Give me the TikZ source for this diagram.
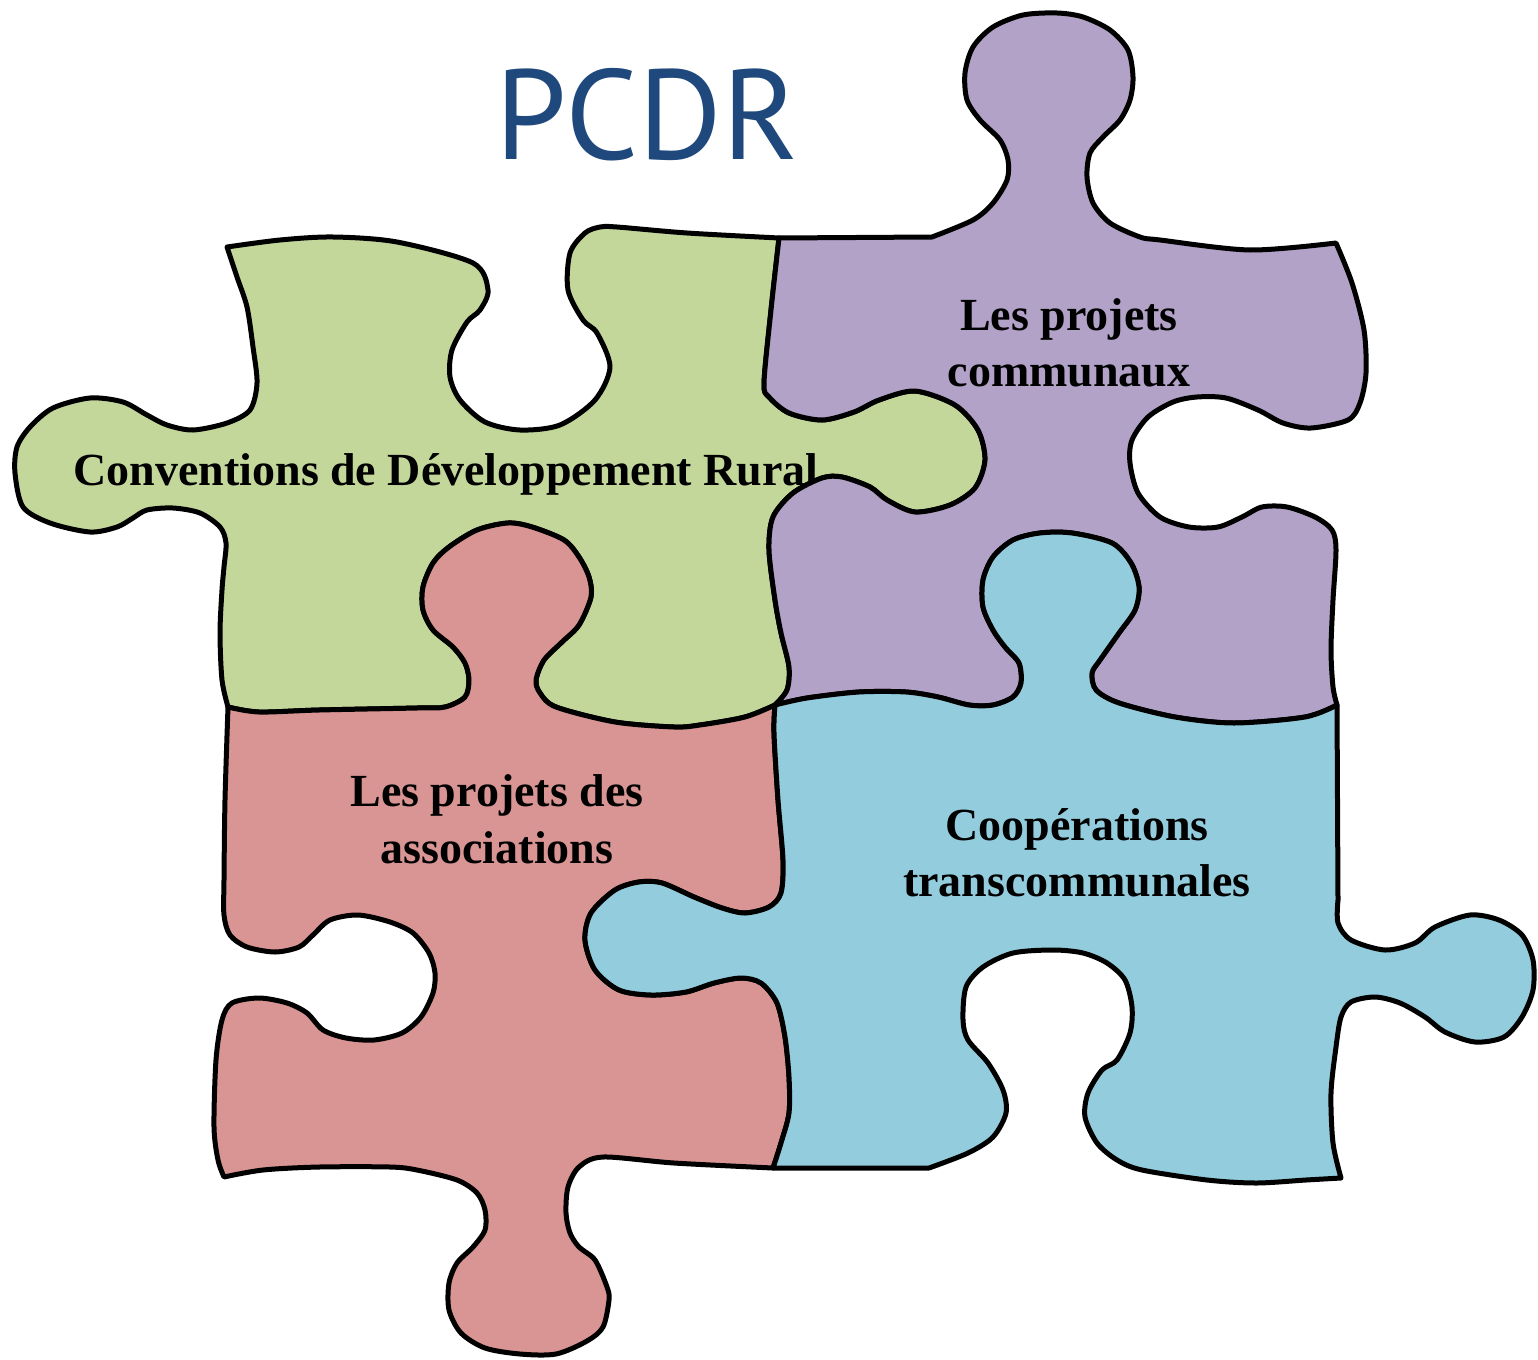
\documentclass[tikz,border=0pt]{standalone}
\usepackage{fontspec}
\setmainfont{Liberation Serif}
\newfontfamily\titlefont{PT Sans}
\definecolor{cgreen}{RGB}{196,215,155}
\definecolor{cpurple}{RGB}{178,162,199}
\definecolor{cred}{RGB}{217,149,148}
\definecolor{cblue}{RGB}{147,205,221}
\definecolor{titleblue}{RGB}{31,73,125}
\begin{document}
\begin{tikzpicture}[x=1pt,y=-1pt,
  piece/.style={draw=black, line width=5pt, line join=round},
  lbl/.style={font=\fontsize{46}{56}\selectfont\bfseries, anchor=base, inner sep=0pt}]
\useasboundingbox (0,0) rectangle (1538,1359);

% green piece
\path[piece, fill=cgreen] (227,247)
 -- plot[smooth] coordinates {(227,247) (280,240) (333,237) (397,242) (473,263) (488,290) (480,310) (467,322) (452,350) (450,377) (460,400) (485,422) (520,430) (560,425) (595,400) (610,367) (597,333) (583,320) (568,290) (570,253) (585,233) (600,227) (617,227) (687,233) (779,238)}
 -- plot[smooth] coordinates {(779,238) (771,310) (764,383) (769,397) (789,413) (822,420) (854,412) (879,400) (915,391) (955,405) (978,430) (985,460) (975,488) (950,505) (915,512) (887,500) (870,487) (842,477) (822,478) (793,493) (773,517) (769,550) (775,600) (781,633) (789,667) (787,690) (775,705)}
 -- plot[smooth] coordinates {(775,705) (745,717) (700,725) (674,727) (615,722) (556,707) (540,693) (536,680) (544,660) (562,642) (579,625) (591,597) (589,577) (579,557) (564,540) (532,527) (508,523) (477,530) (449,547) (433,563) (423,587) (423,610) (433,630) (453,647) (465,663) (469,680) (465,697) (445,707) (417,708) (319,710) (259,712) (228,707)}
 -- plot[smooth] coordinates {(228,707) (222,680) (220,633) (222,590) (224,567) (226,543) (220,527) (200,513) (173,508) (147,510) (133,518) (117,527) (90,532) (50,523) (23,507) (15,473) (17,447) (30,427) (53,408) (90,398) (123,402) (147,415) (167,425) (193,430) (227,423) (250,410) (257,383) (253,347) (247,307) (237,277) (227,247)}
 -- cycle;
\node[lbl] (conv) at (446,485) {Conventions de Développement Rural};

% purple piece
\path[piece, fill=cpurple] (779,238) -- (932,237)
 -- plot[smooth] coordinates {(932,237) (973,220) (993,203) (1007,180) (1008,160) (1000,140) (980,120) (967,100) (965,73) (973,47) (993,27) (1023,15) (1057,13) (1083,17) (1110,30) (1128,50) (1133,77) (1130,100) (1120,120) (1103,137) (1090,153) (1087,177) (1093,203) (1110,223) (1140,237) (1160,240) (1250,250) (1336,243)}
 -- plot[smooth] coordinates {(1336,243) (1352,283) (1364,330) (1366,373) (1360,403) (1348,420) (1311,428) (1283,423) (1258,410) (1226,398) (1197,397) (1173,402) (1148,417) (1132,440) (1130,463) (1138,493) (1160,517) (1189,527) (1218,527) (1242,517) (1262,507) (1287,507) (1315,517) (1332,530) (1336,550) (1333,600) (1331,650) (1333,687) (1337,705)}
 -- plot[smooth] coordinates {(1337,705) (1305,717) (1234,723) (1175,717) (1119,703) (1096,690) (1092,673) (1100,660) (1119,633) (1135,610) (1139,587) (1131,563) (1112,543) (1072,533) (1040,533) (1013,540) (993,557) (983,580) (983,607) (993,630) (1005,647) (1019,663) (1021,683) (1013,697) (993,705) (969,705) (938,697) (906,692) (859,692) (807,698) (775,705)}
 -- plot[smooth] coordinates {(775,705) (787,690) (789,667) (781,633) (775,600) (769,550) (773,517) (793,493) (822,478) (842,477) (870,487) (887,500) (915,512) (950,505) (975,488) (985,460) (978,430) (955,405) (915,391) (879,400) (854,412) (822,420) (789,413) (769,397) (764,383) (771,310) (779,238)}
 -- cycle;

% red piece
\path[piece, fill=cred] (775,705)
 -- plot[smooth] coordinates {(775,705) (745,717) (700,725) (674,727) (615,722) (556,707) (540,693) (536,680) (544,660) (562,642) (579,625) (591,597) (589,577) (579,557) (564,540) (532,527) (508,523) (477,530) (449,547) (433,563) (423,587) (423,610) (433,630) (453,647) (465,663) (469,680) (465,697) (445,707) (417,708) (319,710) (259,712) (228,707)}
 -- plot[smooth] coordinates {(228,707) (225,800) (224,880) (224,915) (230,935) (247,947) (275,952) (299,947) (313,935) (330,920) (358,915) (390,922) (413,933) (429,953) (435,973) (433,993) (421,1017) (402,1033) (374,1040) (346,1038) (323,1030) (307,1013) (287,1003) (259,998) (232,1003) (222,1020) (216,1060) (214,1127) (218,1160) (224,1177)}
 -- plot[smooth] coordinates {(224,1177) (263,1170) (319,1167) (390,1167) (417,1170) (457,1180) (477,1193) (485,1210) (485,1230) (473,1247) (457,1263) (449,1283) (449,1310) (461,1333) (485,1348) (520,1354) (556,1354) (587,1341) (603,1327) (609,1300) (607,1287) (595,1260) (579,1247) (570,1233) (566,1213) (568,1187) (579,1167) (603,1157) (674,1163) (773,1168)}
 -- plot[smooth] coordinates {(773,1168) (781,1143) (789,1113) (789,1077) (785,1037) (777,1003) (761,983) (741,978) (714,983) (686,992) (651,995) (619,990) (595,970) (585,940) (591,913) (615,890) (639,882) (662,883) (694,897) (722,908) (745,913) (769,907) (781,893) (783,860) (778,800) (774,733) (775,705)}
 -- cycle;

% blue piece
\path[piece, fill=cblue] (775,705)
 -- plot[smooth] coordinates {(775,705) (807,698) (859,692) (906,692) (938,697) (969,705) (993,705) (1013,697) (1021,683) (1019,663) (1005,647) (993,630) (983,607) (983,580) (993,557) (1013,540) (1040,533) (1072,533) (1112,543) (1131,563) (1139,587) (1135,610) (1119,633) (1100,660) (1092,673) (1096,690) (1119,703) (1175,717) (1234,723) (1305,717) (1337,705)}
 -- (1338,900)
 -- plot[smooth] coordinates {(1338,900) (1338,923) (1351,940) (1385,950) (1415,943) (1435,927) (1470,915) (1499,920) (1522,935) (1533,960) (1533,990) (1522,1017) (1504,1037) (1475,1042) (1445,1032) (1425,1017) (1400,1003) (1375,997) (1351,1002) (1341,1017) (1336,1047) (1331,1093) (1333,1143) (1341,1178)}
 -- plot[smooth] coordinates {(1341,1178) (1306,1180) (1256,1183) (1207,1180) (1142,1170) (1117,1160) (1097,1143) (1085,1117) (1088,1093) (1102,1070) (1117,1060) (1130,1033) (1132,1007) (1125,980) (1107,963) (1083,953) (1053,950) (1013,953) (983,967) (966,987) (963,1020) (968,1040) (988,1063) (1003,1090) (1006,1113) (993,1137) (968,1153) (929,1168)}
 -- (773,1168)
 -- plot[smooth] coordinates {(773,1168) (781,1143) (789,1113) (789,1077) (785,1037) (777,1003) (761,983) (741,978) (714,983) (686,992) (651,995) (619,990) (595,970) (585,940) (591,913) (615,890) (639,882) (662,883) (694,897) (722,908) (745,913) (769,907) (781,893) (783,860) (778,800) (774,733) (775,705)}
 -- cycle;

% labels
\node[font=\titlefont\fontsize{128}{128}\selectfont, text=titleblue, anchor=base, inner sep=0pt] (title) at (647,160) {PCDR};
\node[lbl] (comm1) at (1069,330) {Les projets};
\node[lbl] (comm2) at (1069,386) {communaux};
\node[lbl] (asso1) at (497,806) {Les projets des};
\node[lbl] (asso2) at (497,863) {associations};
\node[lbl] (coop1) at (1077,840) {Coopérations};
\node[lbl] (coop2) at (1077,896) {transcommunales};
\end{tikzpicture}
\end{document}
